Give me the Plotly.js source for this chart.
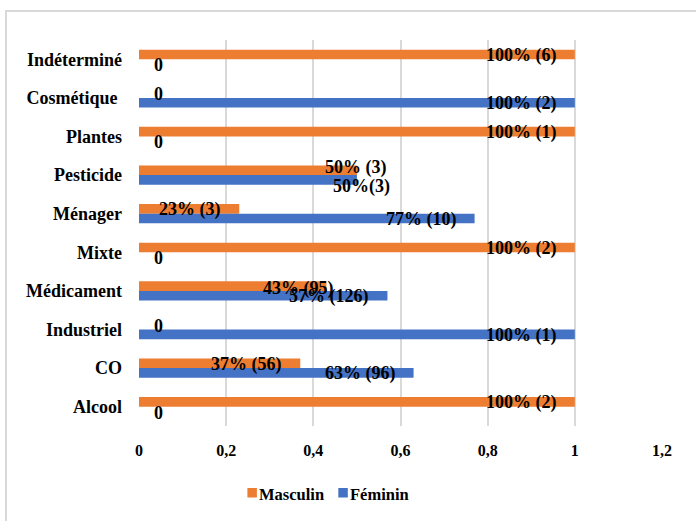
<!DOCTYPE html>
<html>
<head>
<meta charset="utf-8">
<script src="https://cdn.plot.ly/plotly-3.0.1.min.js"></script>
<style>
  html, body { margin: 0; padding: 0; background: #fff; }
  #wrap { position: relative; width: 696px; height: 521px; overflow: hidden; }
  #chart { position: absolute; left: 0; top: 0; width: 696px; height: 521px; }
  #frame { position: absolute; left: 5px; top: 10px; width: 720px; height: 540px;
           border: 2px solid #d9d9d9; box-sizing: border-box; pointer-events: none; }
</style>
</head>
<body>
<div id="wrap">
  <div id="chart"></div>
  <div id="frame"></div>
</div>
<script>
// Toxic exposure categories, listed bottom to top
const categories = ['Alcool', 'CO', 'Industriel', 'Médicament', 'Mixte',
                    'Ménager', 'Pesticide', 'Plantes', 'Cosmétique\u00a0', 'Indéterminé'];

// Share of cases by sex within each category
const masculin = [1, 0.37, 0, 0.43, 1, 0.23, 0.5, 1, 0, 1];
const feminin  = [0, 0.63, 1, 0.57, 0, 0.77, 0.5, 0, 1, 0];

// Data labels: percentage (number of cases)
const masculinLabels = ['100% (2)', '37% (56)', '0', '43% (95)', '100% (2)',
                        '23% (3)', '50% (3)', '100% (1)', '0', '100% (6)'];
const femininLabels  = ['0', '63% (96)', '100% (1)', '57% (126)', '0',
                        '77% (10)', '50%(3)', '0', '100% (2)', '0'];

// Series names and axis ticks
const seriesNames = ['Masculin', 'Féminin'];
const xTicks = [0, 0.2, 0.4, 0.6, 0.8, 1, 1.2];

const ORANGE = '#ed7d31';
const BLUE = '#4472c4';
const FONT = '"Liberation Serif"';

const W = 696, H = 521;
const M = { l: 138.5, r: 34, t: 40, b: 95 };
const PLOT_W = W - M.l - M.r;
const PLOT_H = H - M.t - M.b;

const BAR_W = 0.25;
const BAND_PX = PLOT_H / categories.length;
const HALF = BAR_W * BAND_PX / 2;

// pixel -> paper helpers for the legend block under the axis
const px = v => (v - M.l) / PLOT_W;
const py = v => (H - M.b - v) / PLOT_H;

// Hand-placed labels that sit away from the default inside-end spot
const labelNudge = {
  'm6': { dx: 31, dy: 3 },
  'f6': { dx: 34, dy: -7 },
  'm3': { dx: 9, dy: -2 }
};

function makeLabels(values, labels, key, sign) {
  return values.map((v, i) => {
    const base = {
      x: v, y: categories[i], xref: 'x', yref: 'y',
      text: labels[i], showarrow: false,
      font: { family: FONT, size: 18, color: '#000', weight: 'bold' },
      yanchor: 'middle', borderpad: 0
    };
    const nudge = labelNudge[key + i];
    if (v === 0) {
      return Object.assign(base, { xanchor: 'center', xshift: 19, yshift: sign * HALF - 1 });
    }
    if (nudge) {
      return Object.assign(base, { xanchor: 'right', xshift: nudge.dx, yshift: sign * HALF + nudge.dy });
    }
    return Object.assign(base, { xanchor: 'right', xshift: -17, yshift: sign * HALF - 1 });
  });
}

const traces = [
  {
    type: 'bar', orientation: 'h', name: seriesNames[0],
    x: masculin, y: categories,
    width: BAR_W, offset: 0,
    marker: { color: ORANGE },
    hoverinfo: 'x+y', showlegend: false
  },
  {
    type: 'bar', orientation: 'h', name: seriesNames[1],
    x: feminin, y: categories,
    width: BAR_W, offset: -BAR_W,
    marker: { color: BLUE },
    hoverinfo: 'x+y', showlegend: false
  }
];

// Compact legend: small square swatch right next to each series name
const legendItems = [
  { name: seriesNames[0], color: ORANGE, sx: 247 },
  { name: seriesNames[1], color: BLUE, sx: 338 }
];
const legendShapes = legendItems.map(it => ({
  type: 'rect', xref: 'paper', yref: 'paper',
  x0: px(it.sx), x1: px(it.sx + 9.5), y0: py(497.5), y1: py(488),
  fillcolor: it.color, line: { width: 0 }
}));
const legendTexts = legendItems.map(it => ({
  xref: 'paper', yref: 'paper', x: px(it.sx + 10.5), y: py(494.5),
  xanchor: 'left', yanchor: 'middle', showarrow: false, borderpad: 0,
  text: it.name,
  font: { family: FONT, size: 16.5, color: '#000', weight: 'bold' }
}));

const layout = {
  width: W, height: H,
  margin: M,
  paper_bgcolor: '#fff', plot_bgcolor: '#fff',
  separators: ', ',
  barmode: 'group',
  showlegend: false,
  font: { family: FONT, color: '#000' },
  xaxis: {
    range: [0, 1.2], tickvals: xTicks, ticktext: xTicks.map(v => String(v).replace('.', ',')),
    showgrid: true, gridcolor: '#d9d9d9', gridwidth: 2,
    zeroline: false, showline: false, ticks: '',
    tickfont: { family: FONT, size: 16, color: '#000', weight: 'bold' },
    ticklabelstandoff: 13,
    fixedrange: true
  },
  yaxis: {
    type: 'category', categoryorder: 'array', categoryarray: categories,
    range: [-0.5, categories.length - 0.5],
    showgrid: false, zeroline: false, showline: false, ticks: '',
    tickfont: { family: FONT, size: 18, color: '#000', weight: 'bold' },
    ticklabelstandoff: 16,
    fixedrange: true
  },
  shapes: legendShapes,
  annotations: makeLabels(masculin, masculinLabels, 'm', 1)
    .concat(makeLabels(feminin, femininLabels, 'f', -1))
    .concat(legendTexts)
};

Plotly.newPlot('chart', traces, layout, { displayModeBar: false, staticPlot: true });
</script>
</body>
</html>
